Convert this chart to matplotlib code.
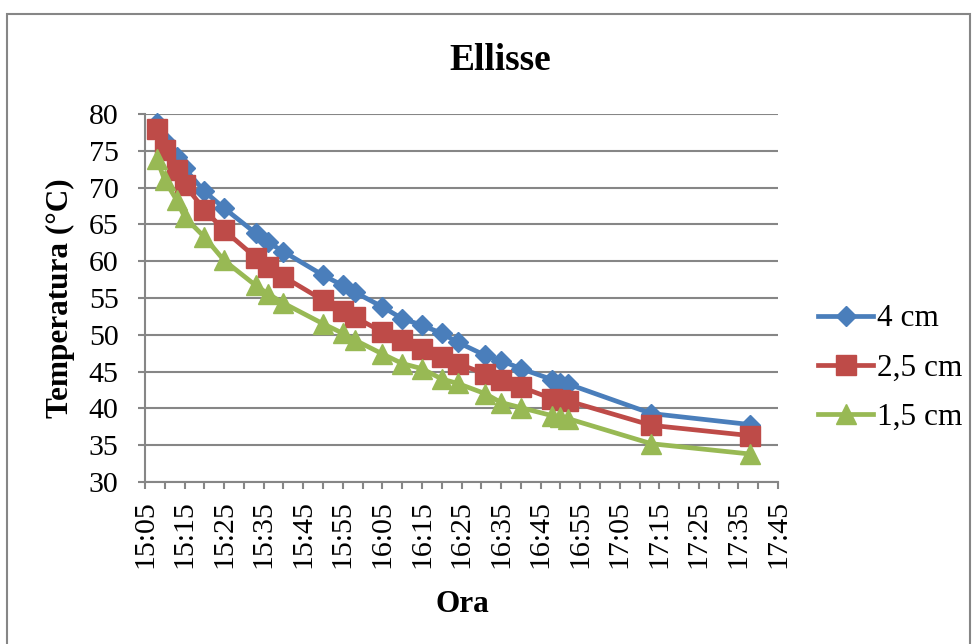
import matplotlib
matplotlib.use("Agg")
import matplotlib.pyplot as plt
from matplotlib.patches import Rectangle
from matplotlib.ticker import MultipleLocator, FuncFormatter

plt.rcParams['font.family'] = ['Liberation Serif', 'DejaVu Serif']

# ---- data ----
times = ["15:08", "15:10", "15:13", "15:15", "15:20", "15:25", "15:33", "15:36",
         "15:40", "15:50", "15:55", "15:58", "16:05", "16:10", "16:15", "16:20",
         "16:24", "16:31", "16:35", "16:40", "16:48", "16:50", "16:52", "17:13",
         "17:38"]
t_4cm = [78.8, 76.3, 74.2, 72.6, 69.5, 67.2, 63.8, 62.6, 61.3, 58.1, 56.7, 55.8,
         53.8, 52.2, 51.3, 50.2, 49.0, 47.2, 46.5, 45.4, 43.9, 43.5, 43.3, 39.3, 37.8]
t_25cm = [77.9, 75.1, 72.4, 70.4, 67.0, 64.2, 60.5, 59.2, 57.9, 54.7, 53.3, 52.4,
          50.4, 49.3, 48.1, 47.0, 46.1, 44.7, 43.8, 42.9, 41.3, 41.1, 41.0, 37.7, 36.3]
t_15cm = [73.9, 71.0, 68.3, 66.0, 63.3, 60.1, 56.7, 55.6, 54.3, 51.5, 50.2, 49.3,
          47.4, 46.1, 45.4, 44.0, 43.4, 42.0, 40.8, 40.1, 39.0, 38.8, 38.6, 35.2, 33.8]
series_labels = ["4 cm", "2,5 cm", "1,5 cm"]
title = "Ellisse"
xlabel = "Ora"
ylabel = "Temperatura (°C)"
x_start, x_end = "15:05", "17:45"


def to_min(s):
    h, m = s.split(":")
    return int(h) * 60 + int(m)


x = [to_min(s) for s in times]

W, H = 977, 644
fig = plt.figure(figsize=(W / 100, H / 100), dpi=100)
fig.patch.set_facecolor("white")

ax = fig.add_axes([145 / W, 1 - 482 / H, (778 - 145) / W, (482 - 114) / H])

blue, red, green = "#4A7EBB", "#BE4B48", "#98B954"
lw = 3.4
ax.plot(x, t_4cm, color=blue, lw=lw, marker="D", ms=10, mec=blue, mfc=blue,
        label=series_labels[0], clip_on=False, zorder=3)
ax.plot(x, t_25cm, color=red, lw=lw, marker="s", ms=14, mec=red, mfc=red,
        label=series_labels[1], clip_on=False, zorder=4)
ax.plot(x, t_15cm, color=green, lw=lw, marker="^", ms=14, mec=green, mfc=green,
        label=series_labels[2], clip_on=False, zorder=5)

ax.set_xlim(to_min(x_start), to_min(x_end))
ax.set_ylim(30, 80)

gcol = "#868686"
ax.yaxis.set_major_locator(MultipleLocator(5))
ax.xaxis.set_major_locator(MultipleLocator(10, offset=to_min(x_start) % 10))
ax.xaxis.set_minor_locator(MultipleLocator(5))
ax.xaxis.set_major_formatter(FuncFormatter(lambda v, p: f"{int(round(v)) // 60}:{int(round(v)) % 60:02d}"))

ax.grid(axis="y", color=gcol, lw=1.5, zorder=0)
ax.set_axisbelow(True)
for s in ["top", "right"]:
    ax.spines[s].set_visible(False)
for s in ["left", "bottom"]:
    ax.spines[s].set_color(gcol)
    ax.spines[s].set_linewidth(1.5)

ax.tick_params(axis="y", which="major", direction="out", length=5, width=1.5,
               color=gcol, labelsize=21.5, pad=14)
ax.tick_params(axis="x", which="both", direction="out", length=5, width=1.5,
               color=gcol, labelsize=21.5, pad=8)
for lab in ax.get_xticklabels():
    lab.set_rotation(90)

fig.text(500 / W, 1 - 61 / H, title, ha="center", va="center",
         fontsize=27, fontweight="bold")
fig.text(462 / W, 1 - 605 / H, xlabel, ha="center", va="center",
         fontsize=22.5, fontweight="bold")
fig.text(60 / W, 1 - 298 / H, ylabel, ha="center", va="center",
         fontsize=22.5, fontweight="bold", rotation=90)

leg = ax.legend(loc="center left", bbox_to_anchor=(818 / W, 1 - 368 / H),
                bbox_transform=fig.transFigure, frameon=False, fontsize=22.5,
                handlelength=1.76, handletextpad=0.12, labelspacing=0.64,
                borderpad=0, borderaxespad=0, numpoints=1)

border = Rectangle((7 / W, -0.05), (970 - 7) / W, (1 - 14 / H) + 0.05,
                   transform=fig.transFigure, fill=False, edgecolor=gcol,
                   lw=1.5, clip_on=False)
fig.add_artist(border)

fig.savefig("out.png", dpi=100, facecolor="white")
